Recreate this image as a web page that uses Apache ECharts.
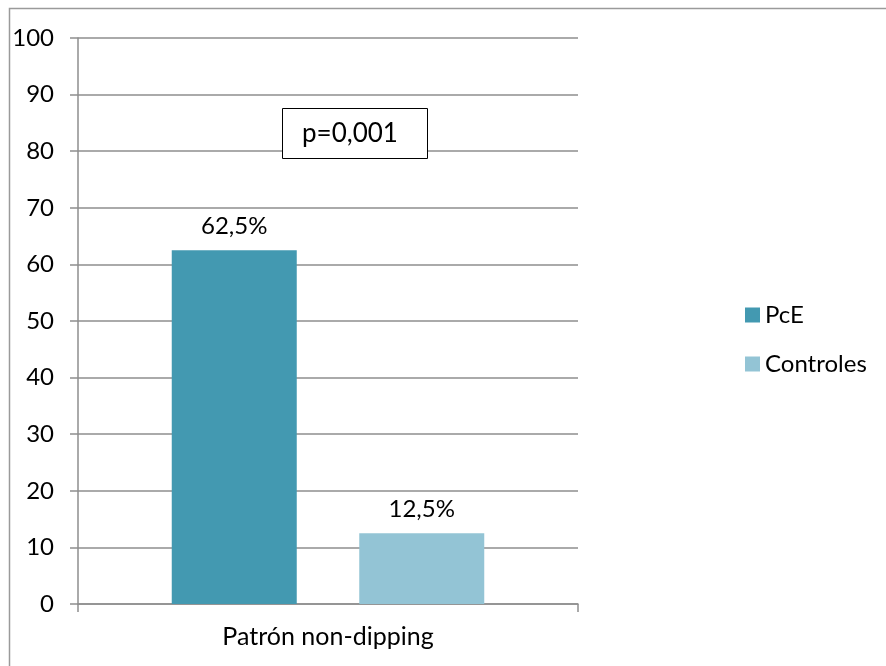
<!DOCTYPE html>
<html>
<head>
<meta charset="utf-8">
<script src="https://cdn.jsdelivr.net/npm/echarts@6/dist/echarts.min.js"></script>
<style>html,body{margin:0;padding:0;background:#fff}#c{width:886px;height:666px}</style>
</head>
<body>
<div id="c"></div>
<script>
const categories = ['Patrón non-dipping'];
const seriesNames = ['PcE', 'Controles'];
const pceValues = [62.5];
const controlesValues = [12.5];
const valueLabels = { PcE: ['62,5%'], Controles: ['12,5%'] };
const annotationText = 'p=0,001';
const colors = ['#4399b1', '#93c4d5'];
const FONT = 'Lato';

const chart = echarts.init(document.getElementById('c'), null, { renderer: 'canvas' });
function mkSeries(name, data, color) {
  return {
    name: name, type: 'bar', data: data, barWidth: 125, barGap: '50%',
    itemStyle: { color: color },
    label: {
      show: true, position: 'top', distance: 12,
      fontFamily: FONT, fontSize: 24, color: '#000',
      formatter: (p) => valueLabels[name][p.dataIndex]
    }
  };
}
chart.setOption({
  animation: false,
  backgroundColor: '#fff',
  textStyle: { fontFamily: FONT },
  title: {
    text: annotationText, left: 282, top: 108,
    borderColor: '#000', borderWidth: 1, backgroundColor: '#fff',
    padding: [10, 30, 10, 20],
    textStyle: { fontFamily: FONT, fontSize: 26, fontWeight: 'normal', color: '#000', lineHeight: 31 }
  },
  legend: {
    orient: 'vertical', left: 740, top: 298,
    itemWidth: 15, itemHeight: 15, itemGap: 25, icon: 'rect',
    textStyle: { fontFamily: FONT, fontSize: 24, color: '#000' },
    data: seriesNames
  },
  grid: { left: 78, right: 308, top: 38, bottom: 62, containLabel: false },
  xAxis: {
    type: 'category', data: categories,
    axisLine: { lineStyle: { color: '#8e8e8e', width: 1.5 } },
    axisTick: { show: true, length: 8, lineStyle: { color: '#8e8e8e', width: 1.5 } },
    axisLabel: { margin: 20, fontFamily: FONT, fontSize: 25, color: '#000' }
  },
  yAxis: {
    type: 'value', min: 0, max: 100, interval: 10,
    axisLine: { show: true, lineStyle: { color: '#8e8e8e', width: 1.5 } },
    axisTick: { show: true, length: 8, lineStyle: { color: '#8e8e8e', width: 1.5 } },
    splitLine: { show: true, lineStyle: { color: '#8e8e8e', width: 1.5 } },
    axisLabel: { margin: 24, fontFamily: FONT, fontSize: 24, color: '#000' }
  },
  graphic: [{
    type: 'polyline', silent: true,
    shape: { points: [[9.5, 666], [9.5, 8.5], [886, 8.5]] },
    style: { stroke: '#9a9a9a', lineWidth: 1.5, fill: null }
  }],
  series: [
    mkSeries(seriesNames[0], pceValues, colors[0]),
    mkSeries(seriesNames[1], controlesValues, colors[1])
  ]
});
</script>
</body>
</html>
